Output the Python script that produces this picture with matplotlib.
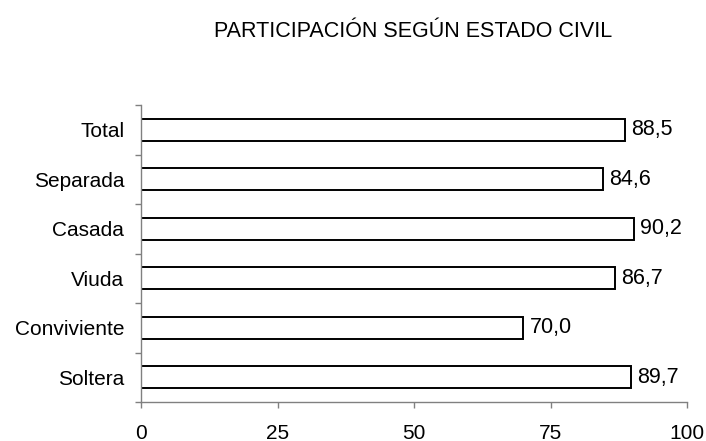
import matplotlib.pyplot as plt
import numpy as np

plt.rcParams['font.family'] = ['Liberation Sans', 'DejaVu Sans']

categorias = ["Soltera", "Conviviente", "Viuda", "Casada", "Separada", "Total"]
valores = [89.7, 70.0, 86.7, 90.2, 84.6, 88.5]
ticks_x = [0, 25, 50, 75, 100]

fig = plt.figure(figsize=(7.06, 4.41), dpi=100)
ax = fig.add_axes([0.1997, 0.0884, 0.774, 0.6735])

y = np.arange(len(categorias))
ax.barh(y, valores, height=0.45, color="white", edgecolor="black", linewidth=1.4)

for yi, v in zip(y, valores):
    ax.annotate(f"{v:.1f}".replace(".", ","), (v, yi), xytext=(4.5, 0),
                textcoords="offset points", va="center", ha="left", fontsize=15.5)

ax.set_xlim(0, 100)
ax.set_ylim(-0.5, len(categorias) - 0.5)
ax.set_xticks(ticks_x)
ax.set_xticklabels([str(t) for t in ticks_x], fontsize=15)
ax.set_yticks(y)
ax.set_yticklabels(categorias, fontsize=15)
ax.set_yticks(np.arange(len(categorias) + 1) - 0.5, minor=True)
ax.tick_params(axis="y", which="major", length=0, pad=12)
ax.tick_params(axis="y", which="minor", length=4.5, color="#808080", width=1)
ax.tick_params(axis="x", length=4.5, color="#808080", width=1, pad=11)

for s in ["top", "right"]:
    ax.spines[s].set_visible(False)
for s in ["left", "bottom"]:
    ax.spines[s].set_color("#808080")
    ax.spines[s].set_linewidth(1)

fig.text(413 / 706, 0.916, "PARTICIPACIÓN SEGÚN ESTADO CIVIL", fontsize=15.5,
         ha="center", va="baseline")

fig.savefig("out.png", dpi=100)
